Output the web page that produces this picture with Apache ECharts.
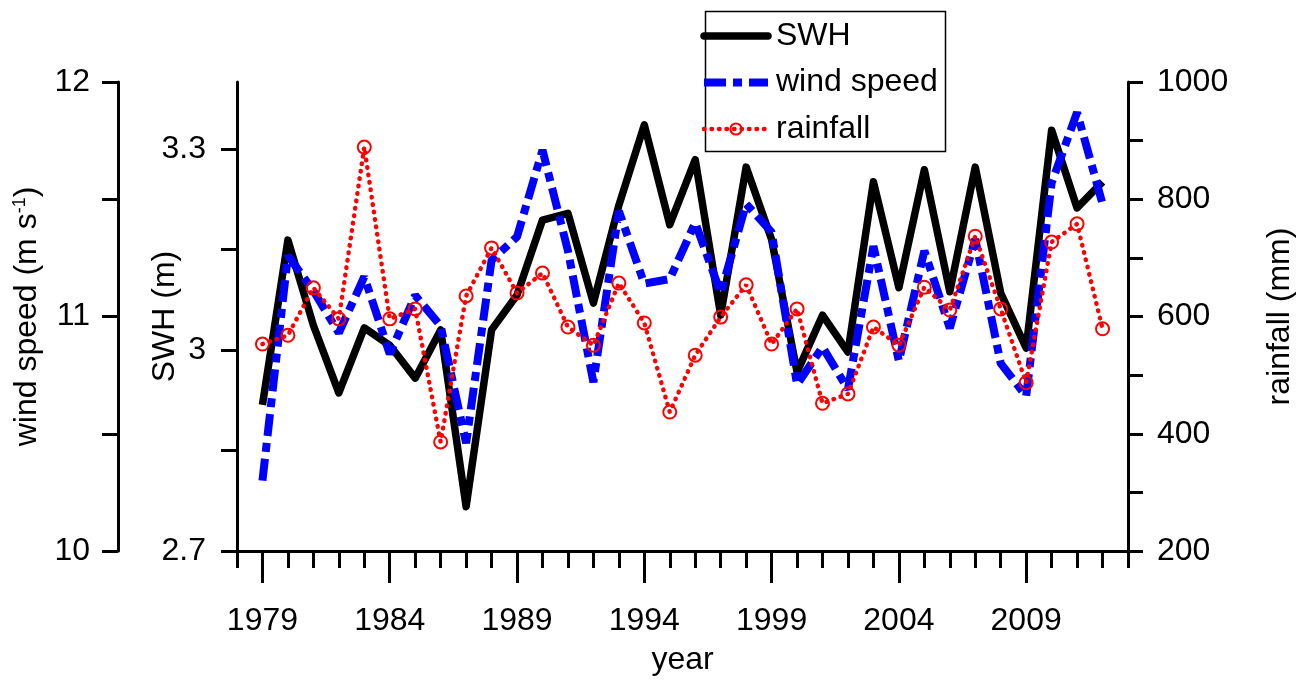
<!DOCTYPE html>
<html>
<head>
<meta charset="utf-8">
<title>SWH, wind speed and rainfall</title>
<script src="https://cdn.jsdelivr.net/npm/echarts@6/dist/echarts.min.js"></script>
<style>
  html, body { margin: 0; padding: 0; background: #fff; }
  #chart { width: 1310px; height: 685px; }
</style>
</head>
<body>
<div id="chart"></div>
<script>
// Annual series, 1979–2012
const years = [1979, 1980, 1981, 1982, 1983, 1984, 1985, 1986, 1987, 1988,
               1989, 1990, 1991, 1992, 1993, 1994, 1995, 1996, 1997, 1998,
               1999, 2000, 2001, 2002, 2003, 2004, 2005, 2006, 2007, 2008,
               2009, 2010, 2011, 2012];

// Significant wave height (m)
const swh = [2.918, 3.164, 3.037, 2.936, 3.033, 3.007, 2.958, 3.030, 2.766, 3.030,
             3.082, 3.194, 3.204, 3.070, 3.216, 3.336, 3.187, 3.284, 3.052, 3.273,
             3.165, 2.967, 3.052, 2.997, 3.251, 3.093, 3.269, 3.087, 3.273, 3.085,
             3.003, 3.328, 3.212, 3.251];

// Wind speed (m s-1)
const windSpeed = [10.30, 11.26, 11.11, 10.93, 11.17, 10.84, 11.09, 10.96, 10.46, 11.24,
                   11.34, 11.71, 11.28, 10.72, 11.45, 11.14, 11.16, 11.40, 11.10, 11.48,
                   11.36, 10.71, 10.87, 10.69, 11.30, 10.81, 11.28, 10.95, 11.33, 10.80,
                   10.66, 11.57, 11.87, 11.48];

// Rainfall (mm)
const rainfall = [553, 568, 649, 596, 889, 596, 613, 386, 635, 717,
                  640, 674, 582, 551, 657, 589, 437, 534, 599, 654,
                  553, 613, 452, 468, 582, 551, 650, 611, 737, 613,
                  487, 727, 758, 579];

// Axis ticks and labels
const yearLabels = [1979, 1984, 1989, 1994, 1999, 2004, 2009];
const swhTicks = [2.7, 2.85, 3, 3.15, 3.3];
const swhLabels = [2.7, 3, 3.3];
const windLabels = [10, 11, 12];
const rainLabels = [200, 400, 600, 800, 1000];

const FONT = '"Liberation Sans", Arial, Helvetica, sans-serif';
const FS = 32;

const SWH_W = 7.5, WIND_W = 8, RAIN_W = 4.5;
const WIND_DASH = [22, 7, 9, 7];
const RAIN_DASH = [0.5, 7];

const pair = (vals) => years.map((y, i) => [y, vals[i]]);
const plain = (v) => String(v);

const axisLineStyle = { show: true, lineStyle: { color: '#000', width: 3 } };
const tickStyle = { color: '#000', width: 3 };
const labelStyle = { color: '#000', fontFamily: FONT, fontSize: FS };
const rainMarker = { color: 'rgba(255,255,255,0)', borderColor: '#ff0000', borderWidth: 2 };

const chart = echarts.init(document.getElementById('chart'), null, { renderer: 'canvas' });

chart.setOption({
  animation: false,
  backgroundColor: '#fff',
  textStyle: { fontFamily: FONT },
  grid: { left: 237, right: 182, top: 82, bottom: 134, containLabel: false },
  legend: {
    orient: 'vertical',
    left: 700,
    top: 20,
    padding: 0,
    itemGap: 14.5,
    itemWidth: 64,
    itemHeight: 14,
    textStyle: { color: '#000', fontFamily: FONT, fontSize: FS, padding: [0, 0, 0, 3] },
    data: [
      { name: 'SWH', itemStyle: { opacity: 0 },
        lineStyle: { width: SWH_W, type: 'solid', cap: 'round' } },
      { name: 'wind speed', itemStyle: { opacity: 0 },
        lineStyle: { width: WIND_W, type: WIND_DASH } },
      { name: 'rainfall', itemStyle: rainMarker,
        lineStyle: { width: RAIN_W, type: RAIN_DASH, cap: 'round' } }
    ]
  },
  graphic: [{
    type: 'rect',
    left: 703,
    top: 9,
    shape: { width: 240, height: 140 },
    style: { fill: 'none', stroke: '#000', lineWidth: 1.5 },
    z: 0
  }],
  xAxis: [{
    type: 'value',
    min: 1978,
    max: 2013,
    name: 'year',
    nameLocation: 'middle',
    nameGap: 93,
    nameMoveOverlap: false,
    nameTextStyle: labelStyle,
    axisLine: Object.assign({ onZero: false }, axisLineStyle),
    axisTick: { show: true, customValues: yearLabels, length: 32, lineStyle: tickStyle },
    axisLabel: Object.assign({ customValues: yearLabels, margin: 54, formatter: plain }, labelStyle),
    splitLine: { show: false }
  }, {
    type: 'value',
    position: 'bottom',
    min: 1978,
    max: 2013,
    interval: 1,
    axisLine: { show: false, onZero: false },
    axisTick: { show: true, length: 17, lineStyle: tickStyle },
    axisLabel: { show: false },
    splitLine: { show: false }
  }],
  yAxis: [{
    type: 'value',
    position: 'left',
    min: 2.7,
    max: 3.4,
    name: 'SWH (m)',
    nameLocation: 'middle',
    nameGap: 56,
    nameMoveOverlap: false,
    nameTextStyle: labelStyle,
    axisLine: axisLineStyle,
    axisTick: { show: true, customValues: swhTicks, length: 16, lineStyle: tickStyle },
    axisLabel: Object.assign({ customValues: swhLabels, margin: 31, formatter: plain }, labelStyle),
    splitLine: { show: false }
  }, {
    type: 'value',
    position: 'left',
    offset: 119,
    min: 10,
    max: 12,
    interval: 0.5,
    name: '{a|wind speed (m s}{b|-1}{a|)}',
    nameLocation: 'middle',
    nameGap: 75,
    nameMoveOverlap: false,
    nameTextStyle: {
      color: '#000',
      fontFamily: FONT,
      fontSize: FS,
      rich: {
        a: { fontFamily: FONT, fontSize: FS, color: '#000' },
        b: { fontFamily: FONT, fontSize: 18, color: '#000', verticalAlign: 'top' }
      }
    },
    axisLine: axisLineStyle,
    axisTick: { show: true, length: 16, lineStyle: tickStyle },
    axisLabel: Object.assign({ customValues: windLabels, margin: 28, formatter: plain }, labelStyle),
    splitLine: { show: false }
  }, {
    type: 'value',
    position: 'right',
    min: 200,
    max: 1000,
    interval: 100,
    name: 'rainfall (mm)',
    nameLocation: 'middle',
    nameGap: 136,
    nameMoveOverlap: false,
    nameTextStyle: labelStyle,
    axisLine: axisLineStyle,
    axisTick: { show: true, length: 15, lineStyle: tickStyle },
    axisLabel: Object.assign({ customValues: rainLabels, margin: 29, formatter: plain }, labelStyle),
    splitLine: { show: false }
  }],
  series: [{
    name: 'SWH',
    type: 'line',
    xAxisIndex: 0,
    yAxisIndex: 0,
    data: pair(swh),
    symbol: 'none',
    color: '#000',
    lineStyle: { color: '#000', width: SWH_W, join: 'round' },
    z: 2
  }, {
    name: 'wind speed',
    type: 'line',
    xAxisIndex: 0,
    yAxisIndex: 1,
    data: pair(windSpeed),
    symbol: 'none',
    color: '#0000ff',
    lineStyle: { color: '#0000ff', width: WIND_W, type: WIND_DASH },
    z: 3
  }, {
    name: 'rainfall',
    type: 'line',
    xAxisIndex: 0,
    yAxisIndex: 2,
    data: pair(rainfall),
    symbol: 'circle',
    symbolSize: 13,
    color: '#ff0000',
    itemStyle: rainMarker,
    lineStyle: { color: '#ff0000', width: RAIN_W, type: RAIN_DASH, cap: 'round' },
    z: 4
  }]
});
</script>
</body>
</html>
